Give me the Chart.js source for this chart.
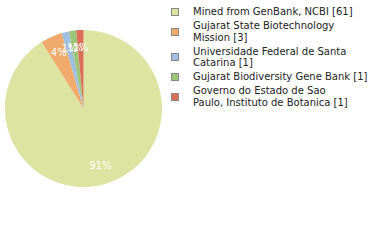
<!DOCTYPE html>
<html><head><meta charset="utf-8">
<script src="https://cdn.jsdelivr.net/npm/chart.js@4"></script>
<style>
html,body{margin:0;padding:0;background:#fff;width:380px;height:240px;overflow:hidden;}
#pie{position:absolute;left:5px;top:30px;width:157px;height:157px;}
#legend{position:absolute;left:171px;top:6px;width:205px;font-family:"DejaVu Sans",sans-serif;font-size:10px;color:#222;}
.item{display:flex;align-items:center;margin-bottom:2.5px;}
.box{flex:none;width:6px;height:6px;border:1px solid #888;margin-right:14px;}
.txt{line-height:11.5px;white-space:pre;}
</style></head>
<body>
<div id="pie"><canvas id="c" width="157" height="157"></canvas></div>
<div id="legend"></div>
<script>
const categories = ["Mined from GenBank, NCBI","Gujarat State Biotechnology Mission","Universidade Federal de Santa Catarina","Gujarat Biodiversity Gene Bank","Governo do Estado de Sao Paulo, Instituto de Botanica"];
const counts = [61,3,1,1,1];
const colors = ["#dde3a0","#f0aa6c","#9ebfe1","#9dc57a","#dd6e56"];

function wrap(s, n){
  const words=s.split(' ');const lines=[];let cur='';
  words.forEach(w=>{
    if(cur && (cur+' '+w).length>n){lines.push(cur);cur=w;}
    else cur=cur?cur+' '+w:w;
  });
  if(cur)lines.push(cur);
  return lines;
}

const legend = document.getElementById('legend');
categories.forEach((c,i)=>{
  const it=document.createElement('div');it.className='item';
  const b=document.createElement('div');b.className='box';b.style.background=colors[i];
  const t=document.createElement('div');t.className='txt';
  const lines=wrap(c,30);
  lines[lines.length-1]+=' ['+counts[i]+']';
  t.textContent=lines.join('\n');
  it.appendChild(b);it.appendChild(t);legend.appendChild(it);
});

const total = counts.reduce((a,b)=>a+b,0);
const labelPlugin = {
  id:'pctLabels',
  afterDatasetsDraw(chart){
    const ctx=chart.ctx;
    const meta=chart.getDatasetMeta(0);
    ctx.save();
    ctx.fillStyle='#fff';
    ctx.font='10px "DejaVu Sans", sans-serif';
    ctx.textAlign='center';ctx.textBaseline='middle';
    meta.data.forEach((arc,i)=>{
      const p=arc.getProps(['x','y','startAngle','endAngle','outerRadius'],true);
      const a=(p.startAngle+p.endAngle)/2;
      const r=p.outerRadius*0.77;
      const pct=Math.round(counts[i]/total*100)+'%';
      ctx.fillText(pct,p.x+Math.cos(a)*r,p.y+Math.sin(a)*r);
    });
    ctx.restore();
  }
};

new Chart(document.getElementById('c'),{
  type:'pie',
  data:{labels:categories,datasets:[{data:counts,backgroundColor:colors,borderWidth:0}]},
  options:{responsive:false,animation:false,
    plugins:{legend:{display:false},tooltip:{enabled:false}},
    layout:{padding:0}},
  plugins:[labelPlugin]
});
</script>
</body></html>
